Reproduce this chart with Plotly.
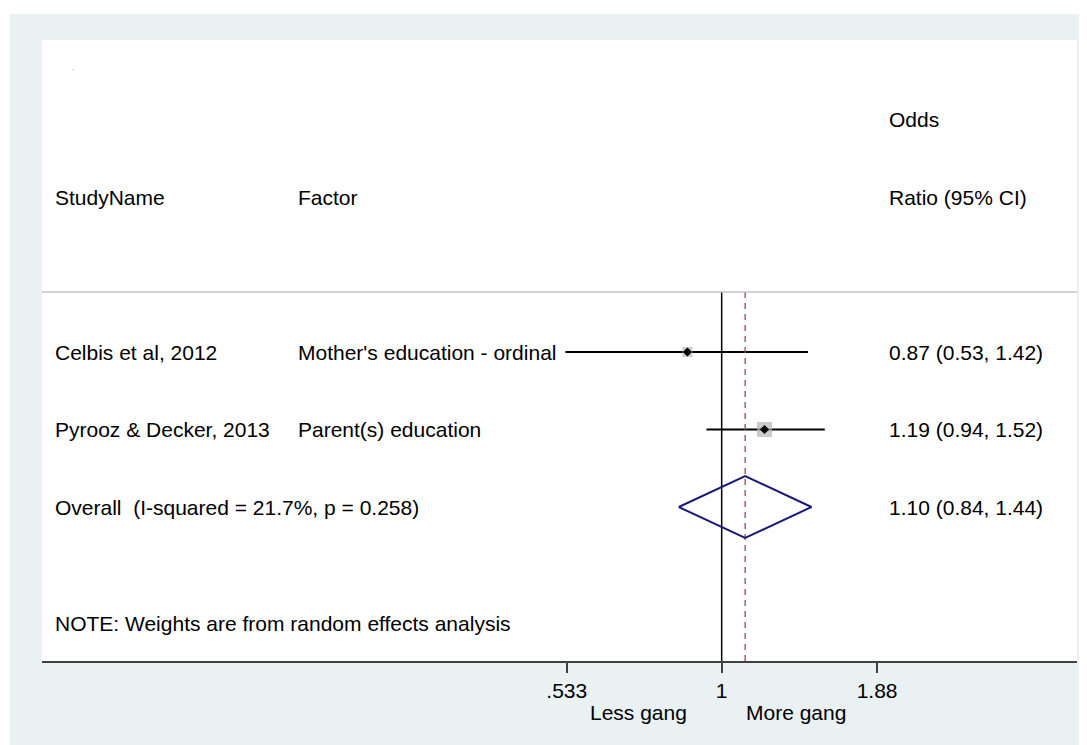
import math
import plotly.graph_objects as go

# ---------------- data ----------------
study_names = ["Celbis et al, 2012", "Pyrooz & Decker, 2013"]
factors = ["Mother's education - ordinal", "Parent(s) education"]
or_est = [0.87, 1.19]
or_lo = [0.53, 0.94]
or_hi = [1.42, 1.52]
or_labels = ["0.87 (0.53, 1.42)", "1.19 (0.94, 1.52)"]

overall_label = "Overall  (I-squared = 21.7%, p = 0.258)"
overall_est = 1.10
overall_lo = 0.84
overall_hi = 1.44
overall_ci_label = "1.10 (0.84, 1.44)"

note_text = "NOTE: Weights are from random effects analysis"
header_left = ["StudyName", "Factor"]
header_right = ["Odds", "Ratio (95% CI)"]
tick_vals = [0.533, 1, 1.88]
tick_text = [".533", "1", "1.88"]
direction_labels = ["Less gang", "More gang"]

# ---------------- style / layout (page pixel coordinates) ----------------
FONT = "Liberation Sans, Arial, sans-serif"
FS = 21
W, H = 1087, 745          # page size
OFF = 8                   # default body margin of the html page
ML, MR, MT, MB = 42, 10, 40, 84   # plot area in page coordinates
PW = W - ML - MR
PH = H - MT - MB
BG = "#e9f1f3"

study_rows = [1, 2]
overall_row = 3
note_row = 4.5
hdr_rows = [-2, -1]
sep_row = 0.226
y_top, y_bot = -3.026, 4.987
box_sizes = [10, 15]
diamond_half = 0.4


def px2paper_x(px):
    return (px - ML) / PW


def px2paper_y(py):
    return (H - MB - py) / PH


fig = go.Figure()

# CI lines
cx, cy = [], []
for lo, hi, r in zip(or_lo, or_hi, study_rows):
    cx += [lo, hi, None]
    cy += [r, r, None]
fig.add_trace(go.Scatter(x=cx, y=cy, mode="lines",
                         line=dict(color="black", width=2),
                         hoverinfo="skip", showlegend=False))

# null line at 1
fig.add_trace(go.Scatter(x=[1, 1], y=[sep_row, y_bot], mode="lines",
                         line=dict(color="black", width=1.5),
                         hoverinfo="skip", showlegend=False))
# overall dashed line
fig.add_trace(go.Scatter(x=[overall_est, overall_est], y=[sep_row, y_bot], mode="lines",
                         line=dict(color="#a8424f", width=1.3, dash="6px,5px"),
                         hoverinfo="skip", showlegend=False))

# weight boxes
fig.add_trace(go.Scatter(x=or_est, y=study_rows, mode="markers",
                         marker=dict(symbol="square", size=box_sizes, color="#b4b4b4",
                                     line=dict(width=0)),
                         hoverinfo="skip", showlegend=False))
# point estimate markers
fig.add_trace(go.Scatter(x=or_est, y=study_rows, mode="markers",
                         marker=dict(symbol="diamond", size=7, color="black",
                                     line=dict(width=0)),
                         hoverinfo="skip", showlegend=False))

# overall diamond
fig.add_trace(go.Scatter(
    x=[overall_lo, overall_est, overall_hi, overall_est, overall_lo],
    y=[overall_row, overall_row - diamond_half, overall_row,
       overall_row + diamond_half, overall_row],
    mode="lines", line=dict(color="#1a1a7a", width=2),
    hoverinfo="skip", showlegend=False))

ann = []


def add_text(text, xp, y, yref="y", xanchor="left", size=FS, color="black"):
    ann.append(dict(text=text, x=xp, y=y, xref="paper", yref=yref,
                    xanchor=xanchor, yanchor="middle", showarrow=False,
                    font=dict(family=FONT, size=size, color=color)))


x_col1 = px2paper_x(53)
x_col2 = px2paper_x(296)
x_col3 = px2paper_x(887)

add_text(header_left[0], x_col1, hdr_rows[1])
add_text(header_left[1], x_col2, hdr_rows[1])
add_text(header_right[0], x_col3, hdr_rows[0])
add_text(header_right[1], x_col3, hdr_rows[1])

for name, fac, lab, r in zip(study_names, factors, or_labels, study_rows):
    add_text(name, x_col1, r)
    add_text(fac, x_col2, r)
    add_text(lab, x_col3, r)

add_text(overall_label, x_col1, overall_row)
add_text(overall_ci_label, x_col3, overall_row)
add_text(note_text, x_col1, note_row)

# tiny dot artifact
add_text(".", px2paper_x(73), px2paper_y(68), yref="paper", xanchor="center",
         size=7, color="#555555")

# direction labels
add_text(direction_labels[0], px2paper_x(638), px2paper_y(712), yref="paper", xanchor="center")
add_text(direction_labels[1], px2paper_x(796), px2paper_y(712), yref="paper", xanchor="center")

shapes = [
    # header separator
    dict(type="line", xref="paper", yref="y", x0=0, x1=1, y0=sep_row, y1=sep_row,
         line=dict(color="#c4c4c4", width=1.5)),
    # white strips outside the outer region
    dict(type="rect", xref="paper", yref="paper",
         x0=px2paper_x(0), x1=px2paper_x(W + 5), y0=px2paper_y(14), y1=px2paper_y(0),
         fillcolor="white", line=dict(width=0), layer="above"),
    dict(type="rect", xref="paper", yref="paper",
         x0=px2paper_x(0), x1=px2paper_x(10), y0=px2paper_y(H + 5), y1=px2paper_y(0),
         fillcolor="white", line=dict(width=0), layer="above"),
]

fig.update_layout(
    width=W - OFF, height=H - OFF, autosize=False,
    margin=dict(l=ML - OFF, r=MR, t=MT - OFF, b=MB, pad=0),
    paper_bgcolor=BG, plot_bgcolor="white",
    showlegend=False,
    annotations=ann, shapes=shapes,
    font=dict(family=FONT, size=FS, color="black"),
    xaxis=dict(type="log", range=[-1.1990, 0.6268],
               tickvals=tick_vals, ticktext=tick_text,
               ticks="outside", ticklen=10, tickwidth=2, tickcolor="#404040",
               tickfont=dict(family=FONT, size=FS, color="black"),
               showline=True, linecolor="#404040", linewidth=2,
               showgrid=False, zeroline=False, fixedrange=True),
    yaxis=dict(range=[y_bot, y_top], visible=False, showgrid=False,
               zeroline=False, fixedrange=True),
)

fig.write_html("out.html")
